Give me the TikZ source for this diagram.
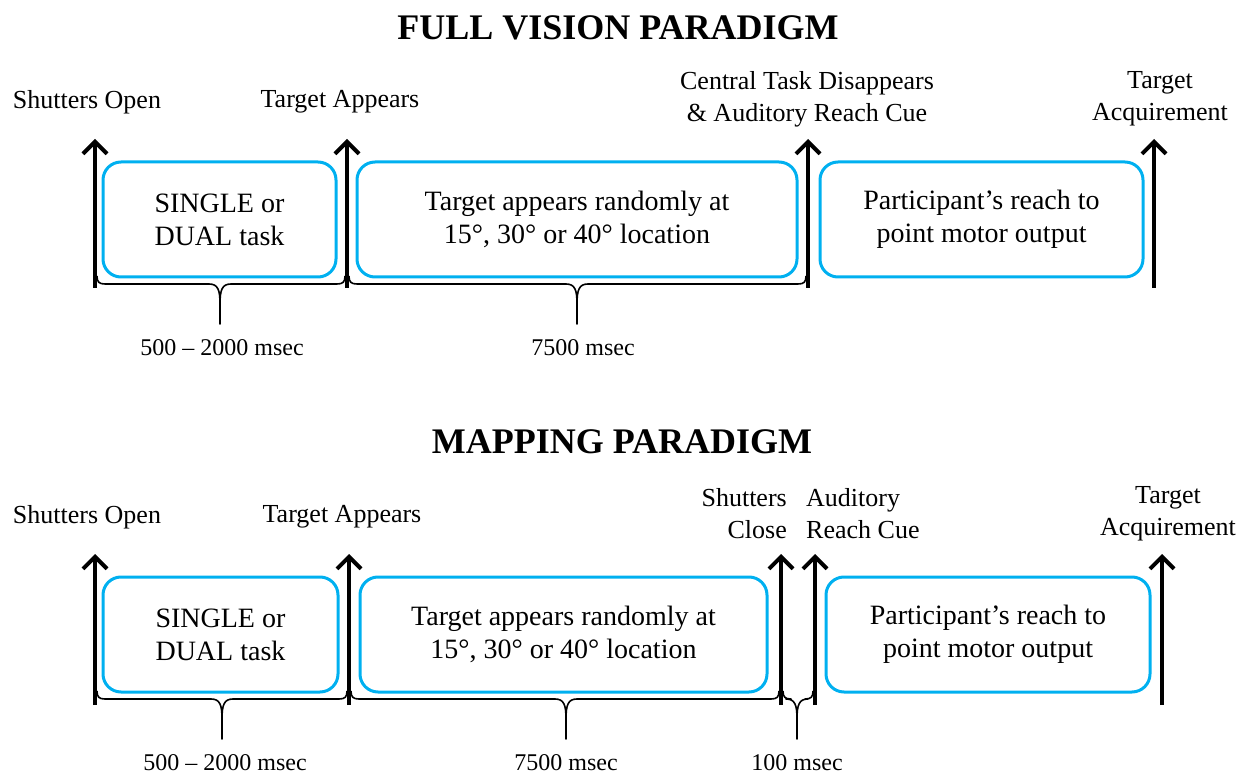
\documentclass[tikz,border=0pt]{standalone}
\usepackage{fontspec}
\setmainfont{Liberation Serif}
\usetikzlibrary{arrows.meta}
\definecolor{boxblue}{HTML}{00B0F0}
\newcommand\timebrace[5]{% x1, x2, xm, b, tip
  \draw[brc] (#1,#4-8) .. controls (#1,#4-2) and (#1+2,#4) .. (#1+8,#4)
    -- (#3-11,#4) .. controls (#3-2,#4) and (#3,#4+6) .. (#3,#4+20) -- (#3,#5)
    -- (#3,#4+20) .. controls (#3,#4+6) and (#3+2,#4) .. (#3+11,#4)
    -- (#2-8,#4) .. controls (#2-2,#4) and (#2,#4-2) .. (#2,#4-8);}
\begin{document}
\begin{tikzpicture}[x=1pt,y=-1pt,
  taskbox/.style={draw=boxblue, line width=3pt, rounded corners=18pt, align=center,
    inner sep=0pt, font=\fontsize{28}{33}\selectfont, minimum height=115pt},
  lbl/.style={font=\fontsize{26}{32}\selectfont, align=center, inner sep=0pt},
  durlbl/.style={font=\fontsize{24}{28}\selectfont, inner sep=0pt},
  ttl/.style={font=\fontsize{36}{40}\selectfont\bfseries, inner sep=0pt},
  tline/.style={line width=4pt, -{Straight Barb[length=12pt,width=24pt]}},
  brc/.style={line width=1.6pt, line join=round}]
\useasboundingbox (0,0) rectangle (1251,775);

% ---------- FULL VISION PARADIGM ----------
\node[ttl] (t1) at (618,28) {FULL VISION PARADIGM};

\coordinate (a1b) at (95,288);   \coordinate (a1t) at (95,139);
\coordinate (a2b) at (347,288);  \coordinate (a2t) at (347,139);
\coordinate (a3b) at (808,288);  \coordinate (a3t) at (808,139);
\coordinate (a4b) at (1154,288); \coordinate (a4t) at (1154,139);
\draw[tline] (a1b) -- (a1t);
\draw[tline] (a2b) -- (a2t);
\draw[tline] (a3b) -- (a3t);
\draw[tline] (a4b) -- (a4t);

\node[taskbox, minimum width=233pt] (b1) at (219.5,219.5) {SINGLE or\\DUAL task};
\node[taskbox, minimum width=440pt] (b2) at (577,219.5) {Target appears randomly at\\15°, 30° or 40° location};
\node[taskbox, minimum width=323pt] (b3) at (981.5,219.5) {Participant’s reach to\\point motor output};

\node[lbl] (l1) at (87,102) {Shutters Open};
\node[lbl] (l2) at (340,102) {Target Appears};
\node[lbl] (l3) at (807,99) {Central Task Disappears\\\& Auditory Reach Cue};
\node[lbl] (l4) at (1160,99) {Target\\Acquirement};

\timebrace{97}{345}{220}{284}{324}
\timebrace{349}{806}{577}{284}{324}
\node[durlbl] (d1) at (222,348) {500 – 2000 msec};
\node[durlbl] (d2) at (583,348) {7500 msec};

% ---------- MAPPING PARADIGM ----------
\node[ttl] (t2) at (622,442) {MAPPING PARADIGM};

\coordinate (m1b) at (95,705);   \coordinate (m1t) at (95,554);
\coordinate (m2b) at (349,705);  \coordinate (m2t) at (349,554);
\coordinate (m3b) at (781,705);  \coordinate (m3t) at (781,554);
\coordinate (m4b) at (815,705);  \coordinate (m4t) at (815,554);
\coordinate (m5b) at (1162,705); \coordinate (m5t) at (1162,554);
\draw[tline] (m1b) -- (m1t);
\draw[tline] (m2b) -- (m2t);
\draw[tline] (m3b) -- (m3t);
\draw[tline] (m4b) -- (m4t);
\draw[tline] (m5b) -- (m5t);

\node[taskbox, minimum width=235pt] (c1) at (220.5,634.5) {SINGLE or\\DUAL task};
\node[taskbox, minimum width=407pt] (c2) at (563.5,634.5) {Target appears randomly at\\15°, 30° or 40° location};
\node[taskbox, minimum width=324pt] (c3) at (988,634.5) {Participant’s reach to\\point motor output};

\node[lbl] (n1) at (87,517) {Shutters Open};
\node[lbl] (n2) at (342,517) {Target Appears};
\node[lbl, align=right, anchor=east] (n3) at (787,514) {Shutters\\Close};
\node[lbl, align=left, anchor=west] (n4) at (806,514) {Auditory\\Reach Cue};
\node[lbl] (n5) at (1168,514) {Target\\Acquirement};

\timebrace{97}{347}{222}{699}{739}
\timebrace{351}{779}{566}{699}{739}
\timebrace{783}{813}{797}{699}{739}
\node[durlbl] (e1) at (225,763) {500 – 2000 msec};
\node[durlbl] (e2) at (566,763) {7500 msec};
\node[durlbl] (e3) at (797,763) {100 msec};
\end{tikzpicture}
\end{document}
